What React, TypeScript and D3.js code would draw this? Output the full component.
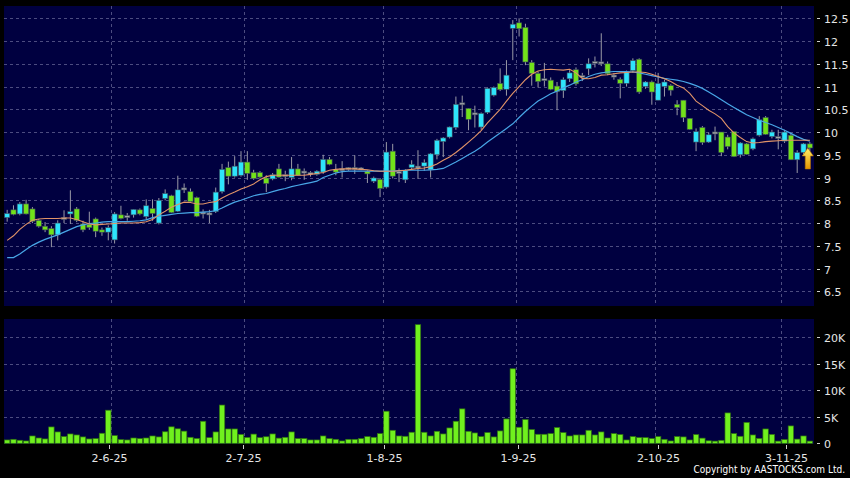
import React, { useEffect, useRef } from 'react';
import * as d3 from 'd3';

// daily OHLC (May -> Nov 2025)
const open = [
  8.12, 8.29, 8.2, 8.42, 8.31, 8.06, 7.93, 7.88, 7.74, 8.1,
  8.2, 8.31, 7.98, 7.97, 8.09, 7.85, 7.8, 7.63, 8.18, 8.14,
  8.18, 8.29, 8.14, 8.32, 8.0, 8.54, 8.6, 8.26, 8.75, 8.69,
  8.56, 8.22, 8.2, 8.25, 8.69, 9.22, 9.03, 9.05, 9.34, 9.11,
  9.11, 8.99, 8.97, 9.19, 9.04, 9.0, 9.19, 9.12, 9.09, 9.07,
  9.12, 9.4, 9.18, 9.17, 9.2, 9.2, 9.19, 9.14, 8.92, 8.96,
  8.79, 9.58, 9.11, 8.95, 9.22, 9.23, 9.25, 9.17, 9.5, 9.79,
  9.89, 10.1, 10.62, 10.52, 10.4, 10.11, 10.43, 10.81, 11.07, 10.94,
  12.28, 12.4, 12.3, 11.53, 11.29, 11.15, 11.14, 11.01, 10.91, 11.17,
  11.37, 11.22, 11.39, 11.53, 11.52, 11.5, 11.23, 11.16, 11.07, 11.35,
  11.6, 11.0, 11.1, 10.7, 11.0, 11.02, 10.61, 10.7, 10.3, 9.78,
  10.1, 9.78, 9.98, 10.0, 9.89, 10.01, 9.5, 9.74, 9.63, 9.93,
  10.32, 9.9, 9.88, 9.8, 9.93, 9.39, 9.55, 9.74,
];
const high = [
  8.29, 8.39, 8.46, 8.51, 8.35, 8.09, 8.02, 7.93, 8.06, 8.28,
  8.72, 8.35, 8.05, 8.25, 8.12, 7.9, 7.95, 8.24, 8.38, 8.22,
  8.3, 8.32, 8.52, 8.52, 8.55, 8.74, 8.62, 9.04, 8.87, 8.76,
  8.58, 8.3, 8.29, 8.78, 9.3, 9.35, 9.47, 9.58, 9.58, 9.17,
  9.14, 9.05, 9.1, 9.3, 9.15, 9.45, 9.3, 9.2, 9.14, 9.16,
  9.5, 9.45, 9.3, 9.36, 9.23, 9.49, 9.23, 9.16, 9.02, 8.99,
  9.78, 9.74, 9.2, 9.18, 9.38, 9.6, 9.4, 9.54, 9.85, 9.89,
  10.12, 10.78, 10.8, 10.52, 10.58, 10.43, 10.98, 11.0, 11.4, 11.58,
  12.46, 12.5, 12.38, 11.58, 11.33, 11.52, 11.2, 11.1, 11.2, 11.36,
  11.42, 11.3, 11.62, 11.66, 12.17, 11.55, 11.3, 11.2, 11.35, 11.62,
  11.62, 11.12, 11.13, 11.3, 11.15, 11.05, 10.7, 10.7, 10.3, 10.08,
  10.13, 9.99, 10.12, 10.0, 9.94, 10.01, 9.78, 9.76, 9.88, 10.35,
  10.35, 10.05, 10.05, 10.05, 9.98, 9.6, 9.76, 9.78,
];
const low = [
  8.03, 8.17, 8.17, 8.19, 8.0, 7.9, 7.8, 7.47, 7.62, 8.0,
  7.98, 8.02, 7.8, 7.85, 7.69, 7.72, 7.62, 7.55, 8.08, 8.05,
  8.12, 8.17, 8.07, 8.05, 7.97, 8.5, 8.22, 8.24, 8.66, 8.44,
  8.13, 8.1, 8.0, 8.22, 8.65, 8.85, 9.0, 9.02, 8.95, 8.95,
  8.98, 8.68, 8.94, 9.0, 8.92, 8.94, 9.04, 8.95, 9.02, 9.04,
  9.08, 9.27, 9.05, 9.0, 9.15, 9.08, 9.16, 8.88, 8.88, 8.57,
  8.76, 8.98, 8.9, 8.88, 9.18, 8.97, 9.15, 9.0, 9.4, 9.45,
  9.86, 10.05, 10.33, 10.04, 10.1, 10.05, 10.4, 10.78, 10.9, 10.8,
  11.58, 12.1, 11.47, 11.02, 10.98, 11.0, 10.92, 10.48, 10.75, 11.1,
  11.02, 11.12, 11.25, 11.42, 11.45, 11.25, 11.15, 10.74, 11.0, 11.3,
  10.84, 10.95, 10.6, 10.7, 10.78, 10.8, 10.37, 10.22, 10.05, 9.58,
  9.72, 9.76, 9.82, 9.47, 9.62, 9.45, 9.44, 9.5, 9.6, 9.9,
  9.94, 9.86, 9.62, 9.76, 9.39, 9.1, 9.5, 9.58,
];
const close = [
  8.21, 8.19, 8.42, 8.2, 8.04, 7.93, 7.85, 7.74, 8.0, 8.1,
  8.25, 8.06, 7.85, 7.9, 7.82, 7.8, 7.9, 8.2, 8.1, 8.14,
  8.3, 8.2, 8.38, 8.21, 8.5, 8.65, 8.23, 8.73, 8.75, 8.47,
  8.15, 8.22, 8.2, 8.68, 9.18, 9.03, 9.25, 9.34, 9.09, 8.98,
  9.01, 8.87, 9.06, 9.01, 9.04, 9.19, 9.05, 9.12, 9.09, 9.14,
  9.4, 9.29, 9.12, 9.17, 9.2, 9.2, 9.19, 9.08, 8.99, 8.76,
  9.56, 9.03, 9.11, 9.16, 9.29, 9.23, 9.33, 9.52, 9.82, 9.87,
  10.11, 10.61, 10.62, 10.28, 10.4, 10.41, 10.96, 10.98, 10.93, 11.25,
  12.37, 12.27, 11.54, 11.29, 11.11, 11.15, 10.94, 10.89, 11.15, 11.3,
  11.06, 11.22, 11.5, 11.53, 11.52, 11.28, 11.23, 11.07, 11.32, 11.57,
  10.88, 11.1, 10.88, 11.07, 11.1, 10.92, 10.54, 10.32, 10.06, 10.01,
  9.77, 9.94, 9.98, 9.55, 9.68, 9.46, 9.76, 9.51, 9.85, 10.27,
  9.95, 10.0, 9.88, 10.0, 9.39, 9.55, 9.74, 9.65,
];
const volume = [
  630, 750, 570, 440, 1380, 1000, 820, 3080, 2140, 1260,
  1760, 1570, 1200, 820, 880, 1890, 6230, 1450, 690, 630,
  1000, 880, 1000, 1380, 1200, 2170, 3100, 2730, 2290, 1130,
  900, 4150, 1060, 2140, 7200, 2700, 2700, 1670, 1100, 1730,
  1060, 1230, 1760, 970, 1130, 2140, 880, 880, 630, 630,
  1380, 880, 750, 440, 750, 750, 880, 1260, 1130, 1820,
  6040, 2450, 1380, 1320, 2080, 22330, 2080, 1380, 2260, 1760,
  2890, 4150, 6480, 2260, 1950, 1260, 2010, 1200, 2330, 4590,
  14030, 3020, 4470, 2580, 1700, 1700, 1820, 2960, 2010, 1380,
  1570, 1570, 2450, 1570, 2140, 1000, 1820, 1640, 630, 1260,
  1070, 1070, 880, 1260, 750, 440, 1260, 1200, 630, 1640,
  970, 470, 410, 560, 5720, 1820, 1320, 3930, 1570, 910,
  2700, 1670, 410, 690, 3270, 790, 1380, 410,
];
// short (orange) and long (blue) moving averages as drawn
const maShort = [
  7.62, 7.72, 7.86, 7.97, 8.06, 8.09, 8.1, 8.1, 8.1, 8.11,
  8.11, 8.08, 8.03, 7.98, 7.96, 7.97, 7.98, 7.99, 8.0, 8.0,
  8.0, 8.01, 8.03, 8.08, 8.18, 8.26, 8.35, 8.41, 8.46, 8.45,
  8.42, 8.42, 8.45, 8.47, 8.55, 8.62, 8.68, 8.75, 8.8, 8.86,
  8.95, 9.02, 9.05, 9.05, 9.05, 9.05, 9.05, 9.05, 9.07, 9.09,
  9.11, 9.16, 9.18, 9.19, 9.19, 9.19, 9.18, 9.17, 9.15, 9.14,
  9.14, 9.14, 9.15, 9.16, 9.18, 9.2, 9.21, 9.24, 9.3, 9.38,
  9.45, 9.55, 9.66, 9.78, 9.9, 10.03, 10.2, 10.35, 10.5, 10.68,
  10.85, 11.0, 11.15, 11.27, 11.34, 11.37, 11.38, 11.37, 11.36, 11.38,
  11.3, 11.18, 11.17, 11.2, 11.25, 11.26, 11.28, 11.3, 11.31, 11.32,
  11.32, 11.31, 11.27, 11.22, 11.17, 11.11, 11.03, 10.97, 10.85, 10.68,
  10.58, 10.48, 10.4, 10.3, 10.12, 9.98, 9.88, 9.79, 9.76, 9.77,
  9.79, 9.8, 9.81, 9.82, 9.82, 9.82, 9.82, 9.82,
];
const maLong = [
  7.24, 7.24, 7.32, 7.42, 7.51, 7.58, 7.64, 7.69, 7.74, 7.8,
  7.86, 7.92, 7.96, 7.99, 8.0, 8.02, 8.03, 8.03, 8.03, 8.03,
  8.04, 8.05, 8.07, 8.12, 8.15, 8.17, 8.19, 8.21, 8.22, 8.23,
  8.23, 8.24, 8.25, 8.27, 8.33, 8.4, 8.46, 8.5, 8.55, 8.6,
  8.63, 8.65, 8.69, 8.73, 8.76, 8.8, 8.83, 8.86, 8.89, 8.92,
  9.0, 9.05, 9.1, 9.13, 9.14, 9.14, 9.14, 9.14, 9.14, 9.14,
  9.14, 9.14, 9.15, 9.16, 9.16, 9.16, 9.16, 9.17, 9.18, 9.2,
  9.27, 9.34, 9.42, 9.5, 9.58, 9.67, 9.78, 9.88, 9.98, 10.08,
  10.18, 10.32, 10.45, 10.57, 10.68, 10.76, 10.84, 10.9, 10.97, 11.03,
  11.1, 11.15, 11.22, 11.27, 11.3, 11.32, 11.33, 11.33, 11.33, 11.32,
  11.3, 11.27, 11.24, 11.21, 11.18, 11.16, 11.14, 11.11, 11.07, 11.02,
  10.96, 10.88, 10.8, 10.71, 10.62, 10.54, 10.46, 10.38, 10.32, 10.26,
  10.21, 10.16, 10.1, 10.04, 9.97, 9.9, 9.84, 9.8,
];

const tickIndex = [16, 37, 59, 80, 102, 122];
const tickLabels = ['2-6-25', '2-7-25', '1-8-25', '1-9-25', '2-10-25', '3-11-25'];
const priceTicks = [6.5, 7, 7.5, 8, 8.5, 9, 9.5, 10, 10.5, 11, 11.5, 12, 12.5];
const volumeTicks = [0, 5000, 10000, 15000, 20000];

const W = 850;
const H = 478;

const App: React.FC = () => {
  const svgRef = useRef<SVGSVGElement>(null);

  useEffect(() => {
    if (!svgRef.current) return;
    const svg = d3.select(svgRef.current);
    svg.selectAll('*').remove();

    const left = 4;
    const right = 814;
    const pTop = 6, pBottom = 306;
    const vTop = 319, vBottom = 444;
    const n = close.length;
    const idx = d3.range(n);

    const x = d3.scaleBand<number>().domain(idx).range([left, right - 1]).padding(0);
    const cx = (i: number) => (x(i) || 0) + x.bandwidth() / 2;
    // date labels sit on a slightly wider axis than the candles
    const xAxis = d3.scaleLinear().domain([0, n - 1]).range([6.6, 818]);
    const y = d3.scaleLinear().domain([6.177, 12.77]).range([pBottom, pTop]);
    const yVol = d3.scaleLinear().domain([0, 23400]).range([443.3, vTop]);

    const font = "'DejaVu Sans', Verdana, sans-serif";
    const gridColor = '#4c4c80';

    svg.append('rect').attr('width', W).attr('height', H).attr('fill', '#000');
    svg.append('rect').attr('x', left).attr('y', pTop).attr('width', right - left).attr('height', pBottom - pTop).attr('fill', '#000040');
    svg.append('rect').attr('x', left).attr('y', vTop).attr('width', right - left).attr('height', vBottom - vTop).attr('fill', '#000040');

    // grid
    const grid = svg.append('g').attr('stroke', gridColor).attr('stroke-dasharray', '3,3').attr('stroke-width', 1);
    grid.selectAll('.hp').data(priceTicks).enter().append('line')
      .attr('x1', left).attr('x2', right)
      .attr('y1', d => Math.round(y(d)) + 0.5).attr('y2', d => Math.round(y(d)) + 0.5);
    grid.selectAll('.hv').data(volumeTicks.slice(1)).enter().append('line')
      .attr('x1', left).attr('x2', right)
      .attr('y1', d => Math.round(yVol(d)) + 0.5).attr('y2', d => Math.round(yVol(d)) + 0.5);
    tickIndex.forEach(i => {
      const gx = Math.round((x(i) || 0) + x.step()) + 0.5;
      grid.append('line').attr('x1', gx).attr('x2', gx).attr('y1', pTop).attr('y2', pBottom);
      grid.append('line').attr('x1', gx).attr('x2', gx).attr('y1', vTop).attr('y2', vBottom);
    });

    // candles
    const bodyW = 5.2;
    const candles = svg.append('g');
    candles.selectAll('.wick').data(idx).enter().append('line')
      .attr('x1', i => cx(i)).attr('x2', i => cx(i))
      .attr('y1', i => y(high[i])).attr('y2', i => y(low[i]))
      .attr('stroke', '#9a9aa6').attr('stroke-width', 1);
    candles.selectAll('.body').data(idx).enter().append('rect')
      .attr('x', i => cx(i) - bodyW / 2)
      .attr('y', i => y(Math.max(open[i], close[i])) - (open[i] === close[i] ? 1 : 0))
      .attr('width', bodyW)
      .attr('height', i => Math.max(2, Math.abs(y(open[i]) - y(close[i]))))
      .attr('fill', i => close[i] > open[i] ? '#2ee4fb' : close[i] < open[i] ? '#72e21a' : '#a4a4aa')
      .attr('stroke', '#3d4a5c').attr('stroke-width', 0.6);

    // moving averages
    const lineShort = d3.line<number>().x(i => cx(i)).y(i => y(maShort[i]));
    const lineLong = d3.line<number>().x(i => cx(i)).y(i => y(maLong[i]));
    svg.append('path').datum(idx).attr('d', lineLong).attr('fill', 'none').attr('stroke', '#48a6e6').attr('stroke-width', 1.2);
    svg.append('path').datum(idx).attr('d', lineShort).attr('fill', 'none').attr('stroke', '#e29468').attr('stroke-width', 1.1);

    // last-day arrow
    const defs = svg.append('defs');
    const grad = defs.append('linearGradient').attr('id', 'arrowGrad').attr('x1', 0).attr('y1', 0).attr('x2', 0).attr('y2', 1);
    grad.append('stop').attr('offset', '0%').attr('stop-color', '#fff26a');
    grad.append('stop').attr('offset', '100%').attr('stop-color', '#e59400');
    const ax = cx(n - 1) - 2;
    const ay = y(close[n - 1]);
    svg.append('path')
      .attr('d', `M${ax},${ay} L${ax + 5.5},${ay + 8} L${ax + 2.6},${ay + 8} L${ax + 2.6},${ay + 21} L${ax - 2.6},${ay + 21} L${ax - 2.6},${ay + 8} L${ax - 5.5},${ay + 8} Z`)
      .attr('fill', 'url(#arrowGrad)').attr('stroke', '#b87400').attr('stroke-width', 0.6);

    // volume
    svg.append('g').selectAll('rect').data(idx).enter().append('rect')
      .attr('x', i => cx(i) - 2.7)
      .attr('y', i => yVol(volume[i]))
      .attr('width', 5.4)
      .attr('height', i => yVol(0) - yVol(volume[i]))
      .attr('fill', '#70f01e').attr('stroke', '#2f7410').attr('stroke-width', 0.7);

    // right axes
    const axisG = svg.append('g').attr('font-family', font).attr('font-size', 11).attr('fill', '#e6e6e6');
    priceTicks.forEach(p => {
      const yy = Math.round(y(p)) + 0.5;
      axisG.append('line').attr('x1', 817).attr('x2', 820).attr('y1', yy).attr('y2', yy).attr('stroke', '#cfcfcf');
      axisG.append('text').attr('x', 824).attr('y', yy + 4).text(String(p));
    });
    volumeTicks.forEach(v => {
      const yy = Math.round(yVol(v)) + 0.5;
      axisG.append('line').attr('x1', 817).attr('x2', 820).attr('y1', yy).attr('y2', yy).attr('stroke', '#cfcfcf');
      axisG.append('text').attr('x', 824).attr('y', yy + 4).text(v === 0 ? '0' : `${v / 1000}K`);
    });

    // date axis
    tickIndex.forEach((i, k) => {
      const tx = Math.round(xAxis(i)) + 0.5;
      axisG.append('line').attr('x1', tx).attr('x2', tx).attr('y1', 445).attr('y2', 449).attr('stroke', '#cfcfcf');
      axisG.append('text').attr('x', tx).attr('y', 462).attr('text-anchor', 'middle').text(tickLabels[k]);
    });

    svg.append('text')
      .attr('x', 845).attr('y', 473).attr('text-anchor', 'end')
      .attr('font-family', "'DejaVu Sans Condensed', 'DejaVu Sans', sans-serif")
      .attr('font-size', 10).attr('fill', '#ffffff')
      .text('Copyright by AASTOCKS.com Ltd.');
  }, []);

  return (
    <div style={{ position: 'absolute', left: 0, top: 0, width: W, height: H, background: '#000' }}>
      <svg ref={svgRef} width={W} height={H} style={{ display: 'block' }} />
    </div>
  );
};

export default App;
